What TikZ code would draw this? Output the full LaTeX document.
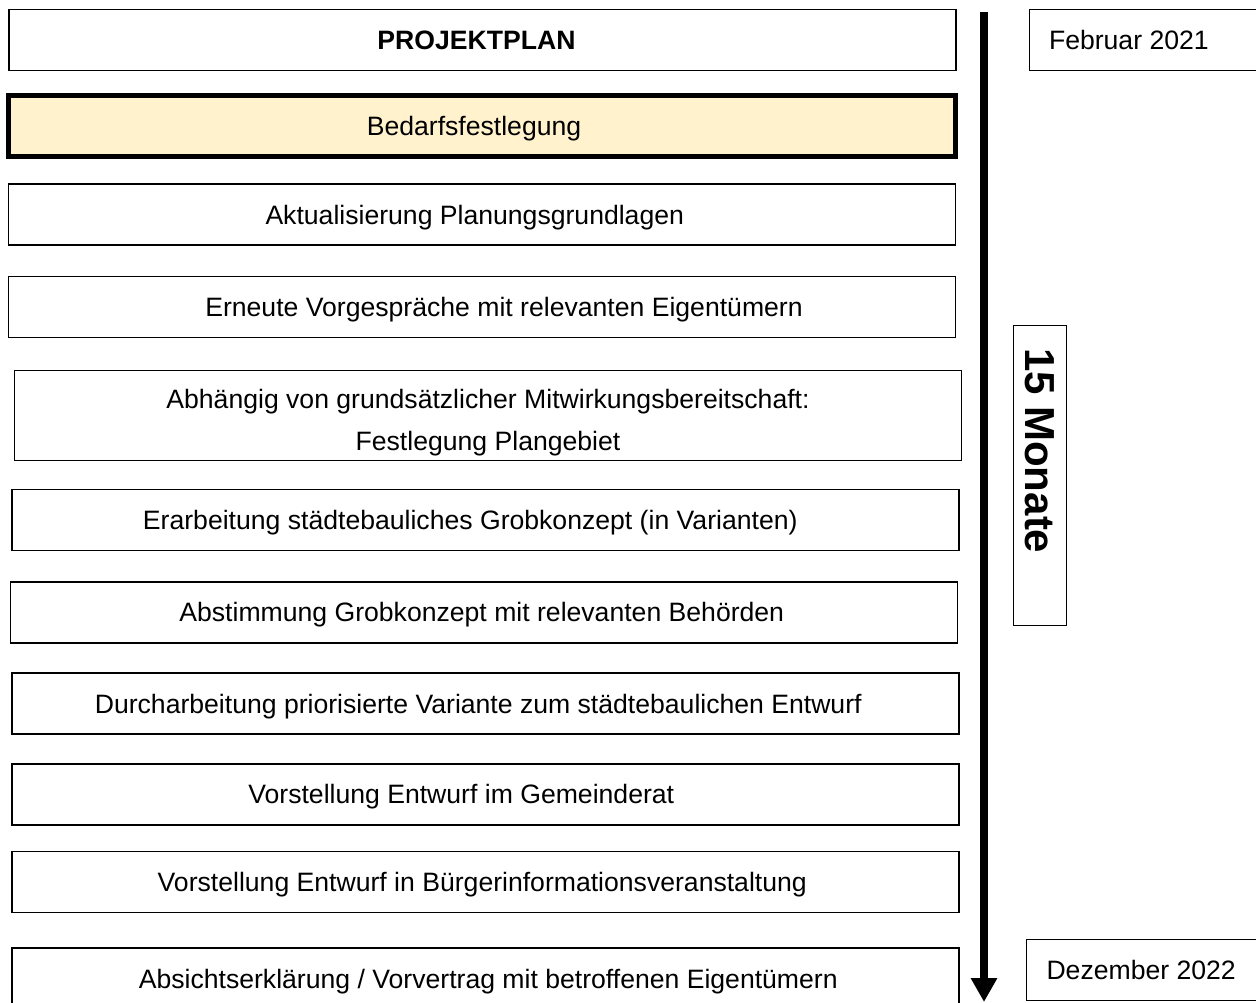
\documentclass[tikz,border=0pt]{standalone}
\usepackage{fontspec}
\setmainfont{Liberation Sans}
\usetikzlibrary{arrows.meta}
\definecolor{bedarfgelb}{HTML}{FFF2CC}
\newcommand{\versatz}[1]{\hspace*{#1pt}}

\begin{document}
\begin{tikzpicture}[x=0.5pt,y=-0.5pt,
  task/.style={draw, line width=0.75pt, minimum width=473.5pt, minimum height=30.5pt, inner sep=0pt, text height=12.5pt, text depth=2.8pt, font=\fontsize{13.3}{16}\selectfont},
  datum/.style={draw, line width=0.5pt, anchor=west, minimum height=30.5pt, text width=100pt, inner xsep=10pt, align=flush left, font=\fontsize{13.3}{16}\selectfont},
  zeitpfeil/.style={line width=4pt, -{Triangle[width=12.5pt,length=12pt]}}]
\useasboundingbox (0,0) rectangle (1256,1002);
%\draw[help lines] (0,0) grid (1256,1002);

% Arbeitsschritte
\node[task, font=\bfseries\fontsize{13.3}{16}\selectfont] (kopf) at (482.5,40) {\versatz{-6}PROJEKTPLAN};
\node[task, line width=2.5pt, fill=bedarfgelb] (bedarf) at (482,126) {\versatz{-8}Bedarfsfestlegung};
\node[task] (aktual) at (481.75,214.5) {\versatz{-7}Aktualisierung Planungsgrundlagen};
\node[task] (vorgespr) at (482,307) {\versatz{22}Erneute Vorgespräche mit relevanten Eigentümern};
\node[task, minimum height=45pt, text height=36pt, text depth=1.5pt, align=flush center, font=\fontsize{13.3}{21}\selectfont] (plangeb) at (488,415.5) {Abhängig von grundsätzlicher Mitwirkungsbereitschaft:\\Festlegung Plangebiet};
\node[task] (grobk) at (485.25,519.75) {\versatz{-15}Erarbeitung städtebauliches Grobkonzept (in Varianten)};
\node[task] (abstimm) at (483.75,612.25) {\versatz{-2}Abstimmung Grobkonzept mit relevanten Behörden};
\node[task] (entwurf) at (485.25,703.5) {\versatz{-7}Durcharbeitung priorisierte Variante zum städtebaulichen Entwurf};
\node[task] (gemrat) at (485.25,794.25) {\versatz{-24}Vorstellung Entwurf im Gemeinderat};
\node[task] (buerger) at (485.25,882) {\versatz{-3}Vorstellung Entwurf in Bürgerinformationsveranstaltung};
\node[task] (absicht) at (485.25,978.5) {\versatz{3}Absichtserklärung / Vorvertrag mit betroffenen Eigentümern};

% Zeitachse
\coordinate (zeitA) at (984,12);
\coordinate (zeitB) at (984,1002);
\draw[zeitpfeil] (zeitA) -- (zeitB);

\node[datum] (start) at (1028.5,40) {Februar 2021};
\node[datum] (ende) at (1026,970) {Dezember 2022};
\node[draw, line width=0.5pt, rotate=-90, text width=127pt, inner xsep=11.5pt, minimum height=26.5pt, align=flush left, font=\bfseries\fontsize{21}{25}\selectfont] (dauer) at (1039.5,475) {15 Monate};
\end{tikzpicture}
\end{document}
